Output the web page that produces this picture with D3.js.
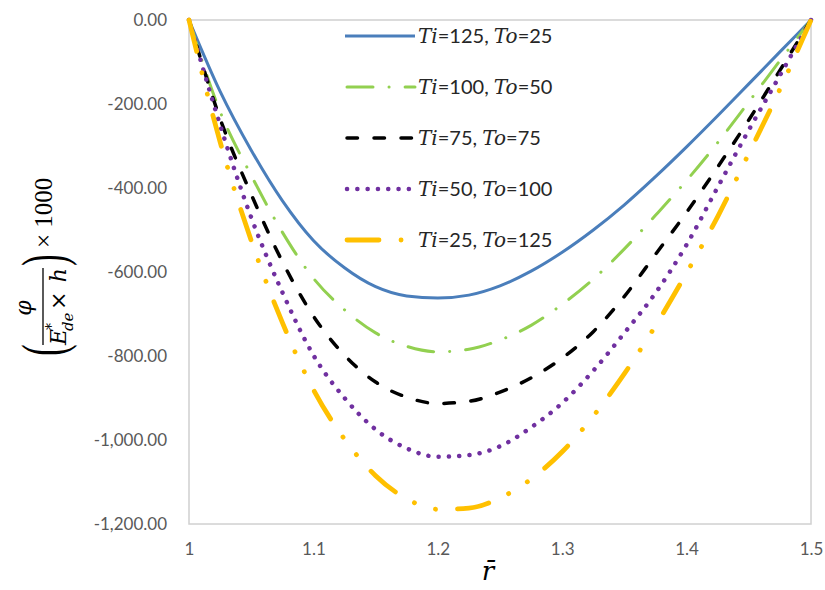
<!DOCTYPE html>
<html>
<head>
<meta charset="utf-8">
<script src="https://cdn.jsdelivr.net/npm/d3@7"></script>
<style>
  body { margin: 0; background: #fff; }
  svg { display: block; }
  .tick text { fill: #595959; }
</style>
</head>
<body>
<div id="chart"></div>
<script>
// r values along the x axis
const rVals = [1.000, 1.025, 1.050, 1.075, 1.100, 1.125, 1.150, 1.175, 1.200, 1.225,
  1.250, 1.275, 1.300, 1.325, 1.350, 1.375, 1.400, 1.425, 1.450, 1.475, 1.500];

// phi / (E*de x h) x 1000
const phi125 = [0, -170, -310, -430, -525, -590, -635, -657, -662, -655,
  -633, -598, -553, -500, -440, -373, -302, -228, -152, -76, 0];
const phi100 = [0, -218, -370, -505, -615, -690, -745, -777, -790, -784,
  -762, -727, -677, -617, -545, -465, -382, -292, -195, -97, 0];
const phi75 = [0, -235, -415, -575, -705, -798, -862, -898, -913, -908,
  -886, -852, -805, -742, -658, -558, -458, -350, -238, -120, 0];
const phi50 = [0, -250, -470, -648, -798, -900, -975, -1020, -1040, -1036,
  -1015, -970, -912, -835, -745, -650, -535, -398, -262, -132, 0];
const phi25 = [0, -290, -525, -720, -880, -998, -1085, -1140, -1165, -1162,
  -1138, -1093, -1028, -943, -842, -728, -602, -468, -318, -165, 0];

const tiVals = [125, 100, 75, 50, 25];
const toVals = [25, 50, 75, 100, 125];

const xTicks = [1, 1.1, 1.2, 1.3, 1.4, 1.5];
const yTicks = [0, -200, -400, -600, -800, -1000, -1200];

const series = [
  { values: phi125, color: "#4a7ebb", width: 3, dash: null },
  { values: phi100, color: "#92d050", width: 3, dash: "26 16 0.1 16" },
  { values: phi75, color: "#000000", width: 3.5, dash: "10.5 16.5" },
  { values: phi50, color: "#7030a0", width: 4.5, dash: "0.1 10.2" },
  { values: phi25, color: "#ffc000", width: 4.8, dash: "32 22 0.1 22 0.1 22" }
];

const width = 825, height = 590;
const margin = { top: 20, right: 14, bottom: 66, left: 189 };

const svg = d3.select("#chart").append("svg")
  .attr("width", width)
  .attr("height", height);

const x = d3.scaleLinear().domain([1, 1.5]).range([margin.left, width - margin.right]);
const y = d3.scaleLinear().domain([-1200, 0]).range([height - margin.bottom, margin.top]);

const sans = "Lato, 'Open Sans', sans-serif";
const serif = "'DejaVu Serif', serif";

// plot area border
svg.append("rect")
  .attr("x", x(1)).attr("y", y(0))
  .attr("width", x(1.5) - x(1)).attr("height", y(-1200) - y(0))
  .attr("fill", "none")
  .attr("stroke", "#d0d0d0")
  .attr("stroke-width", 1.5);

const fmtY = d3.formatLocale({
  decimal: ".", thousands: ",", grouping: [3], currency: ["", ""], minus: "-"
}).format(",.2f");

const yAxis = svg.append("g")
  .attr("transform", `translate(${x(1)},0)`)
  .call(d3.axisLeft(y).tickValues(yTicks).tickFormat(fmtY).tickSize(0).tickPadding(22));
yAxis.select(".domain").remove();
yAxis.selectAll("text").style("font-family", sans).style("font-size", "17px");

const xAxis = svg.append("g")
  .attr("transform", `translate(0,${y(-1200)})`)
  .call(d3.axisBottom(x).tickValues(xTicks).tickFormat(d => String(d)).tickSize(0).tickPadding(19));
xAxis.select(".domain").remove();
xAxis.selectAll("text").style("font-family", sans).style("font-size", "17px");

// lines
const line = d3.line()
  .x((d, i) => x(rVals[i]))
  .y(d => y(d))
  .curve(d3.curveMonotoneX);

svg.append("g")
  .selectAll("path")
  .data(series)
  .join("path")
  .attr("d", d => line(d.values))
  .attr("fill", "none")
  .attr("stroke", d => d.color)
  .attr("stroke-width", d => d.width)
  .attr("stroke-dasharray", d => d.dash)
  .attr("stroke-linecap", d => d.dash ? "round" : "butt")
  .attr("stroke-linejoin", "round");

// legend
const legend = svg.append("g");
const rows = legend.selectAll("g")
  .data(series)
  .join("g")
  .attr("transform", (d, i) => `translate(345,${36 + i * 51})`);

rows.append("line")
  .attr("x1", d => d.dash ? 2 : 0)
  .attr("x2", 70)
  .attr("stroke", d => d.color)
  .attr("stroke-width", d => d.width)
  .attr("stroke-dasharray", d => d.dash)
  .attr("stroke-linecap", d => d.dash ? "round" : "butt");

const lt = rows.append("text")
  .attr("x", 73)
  .attr("y", 7)
  .style("font-size", "20px")
  .style("font-family", sans)
  .attr("fill", "#262626");
lt.append("tspan").style("font-family", serif).style("font-style", "italic").text("Ti");
lt.append("tspan").text((d, i) => `=${tiVals[i]}, `);
lt.append("tspan").style("font-family", serif).style("font-style", "italic").text("To");
lt.append("tspan").text((d, i) => `=${toVals[i]}`);

// x axis title
svg.append("text")
  .attr("x", 488)
  .attr("y", 580)
  .attr("text-anchor", "middle")
  .style("font-family", serif)
  .style("font-style", "italic")
  .style("font-size", "26px")
  .text("r\u0304");

// y axis title: (phi / (E*de x h)) x 1000
const yl = svg.append("g")
  .attr("transform", "translate(43,300) rotate(-90)")
  .style("font-family", serif)
  .attr("fill", "#000");

yl.append("line")
  .attr("x1", -45).attr("x2", 32)
  .attr("y1", 0).attr("y2", 0)
  .attr("stroke", "#000").attr("stroke-width", 1.3);

yl.append("text")
  .attr("x", -8).attr("y", -12)
  .attr("text-anchor", "middle")
  .style("font-style", "italic").style("font-size", "22px")
  .text("φ");

yl.append("text")
  .attr("x", -45).attr("y", 23)
  .style("font-style", "italic").style("font-size", "22px")
  .text("E");
yl.append("text")
  .attr("x", -30).attr("y", 13)
  .style("font-size", "14px")
  .text("*");
yl.append("text")
  .attr("x", -31).attr("y", 30)
  .style("font-style", "italic").style("font-size", "15px")
  .text("de");
yl.append("text")
  .attr("x", -10).attr("y", 23)
  .style("font-size", "22px")
  .text("×");
yl.append("text")
  .attr("x", 32).attr("y", 23)
  .attr("text-anchor", "end")
  .style("font-style", "italic").style("font-size", "22px")
  .text("h");

yl.append("text")
  .attr("transform", "translate(-50,0) scale(0.55,1)")
  .attr("text-anchor", "middle")
  .attr("dominant-baseline", "central")
  .style("font-size", "62px")
  .style("font-family", "'Liberation Serif', serif")
  .text("(");
yl.append("text")
  .attr("transform", "translate(40,0) scale(0.55,1)")
  .attr("text-anchor", "middle")
  .attr("dominant-baseline", "central")
  .style("font-size", "62px")
  .style("font-family", "'Liberation Serif', serif")
  .text(")");

yl.append("text")
  .attr("x", 52).attr("y", 9)
  .style("font-family", "'Liberation Serif', serif")
  .style("font-size", "25px")
  .text("× 1000");
</script>
</body>
</html>
